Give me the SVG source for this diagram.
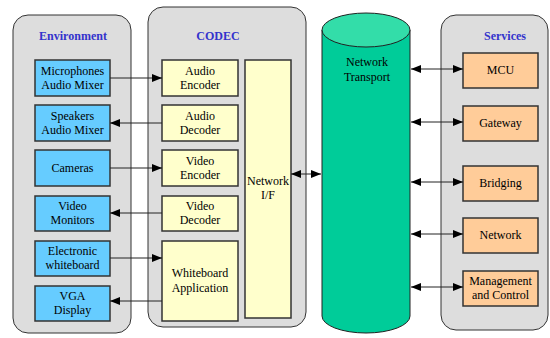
<svg xmlns="http://www.w3.org/2000/svg" width="550" height="338" viewBox="0 0 550 338">
<defs>
<style>
.panel{fill:#dddddd;stroke:#333;stroke-width:1}
.env{fill:#66ccff;stroke:#333;stroke-width:1.5}
.codec{fill:#ffffcc;stroke:#333;stroke-width:1.5}
.svc{fill:#ffcc99;stroke:#333;stroke-width:1.5}
.t{font-family:"Liberation Serif","Times New Roman",serif;font-size:12px;fill:#000;text-anchor:middle}
.title{font-family:"Liberation Serif","Times New Roman",serif;font-size:12px;font-weight:bold;fill:#3333cc;text-anchor:middle}
.c{stroke:#222;stroke-width:1;fill:none}
</style>
<marker id="ah" viewBox="0 0 10 8" refX="10" refY="4" markerWidth="10" markerHeight="8" markerUnits="userSpaceOnUse" orient="auto-start-reverse">
<path d="M0,0 L10,4 L0,8 z" fill="#000"/>
</marker>
</defs>
<rect width="550" height="338" fill="#fff"/>

<g id="environment">
<rect class="panel" x="13" y="15" width="118" height="318" rx="15"/>
<text class="title" x="73" y="40">Environment</text>
</g>
<g id="codec">
<rect class="panel" x="148" y="7" width="158" height="320" rx="15"/>
<text class="title" x="218" y="40">CODEC</text>
</g>
<g id="services">
<rect class="panel" x="441" y="15" width="107" height="315" rx="15"/>
<text class="title" x="505" y="40">Services</text>
</g>

<g id="microphones"><rect class="env" x="35" y="60" width="75" height="36"/><text class="t" x="72.5" y="75">Microphones</text><text class="t" x="72.5" y="89">Audio Mixer</text></g>
<g id="speakers"><rect class="env" x="35" y="105" width="75" height="36"/><text class="t" x="72.5" y="120">Speakers</text><text class="t" x="72.5" y="134">Audio Mixer</text></g>
<g id="cameras"><rect class="env" x="35" y="150" width="75" height="36"/><text class="t" x="72.5" y="172">Cameras</text></g>
<g id="monitors"><rect class="env" x="35" y="196" width="75" height="35"/><text class="t" x="72.5" y="210">Video</text><text class="t" x="72.5" y="224">Monitors</text></g>
<g id="ewhiteboard"><rect class="env" x="35" y="241" width="75" height="35"/><text class="t" x="72.5" y="255">Electronic</text><text class="t" x="72.5" y="269">whiteboard</text></g>
<g id="vga"><rect class="env" x="35" y="286" width="75" height="35"/><text class="t" x="72.5" y="300">VGA</text><text class="t" x="72.5" y="314">Display</text></g>

<g id="audioenc"><rect class="codec" x="162" y="60" width="76" height="36"/><text class="t" x="200" y="75">Audio</text><text class="t" x="200" y="89">Encoder</text></g>
<g id="audiodec"><rect class="codec" x="162" y="105" width="76" height="36"/><text class="t" x="200" y="120">Audio</text><text class="t" x="200" y="134">Decoder</text></g>
<g id="videoenc"><rect class="codec" x="162" y="150" width="76" height="36"/><text class="t" x="200" y="165">Video</text><text class="t" x="200" y="179">Encoder</text></g>
<g id="videodec"><rect class="codec" x="162" y="196" width="76" height="35"/><text class="t" x="200" y="210">Video</text><text class="t" x="200" y="224">Decoder</text></g>
<g id="wbapp"><rect class="codec" x="162" y="241" width="76" height="80"/><text class="t" x="200" y="277">Whiteboard</text><text class="t" x="200" y="292">Application</text></g>
<g id="netif"><rect class="codec" x="245" y="60" width="46" height="258"/><text class="t" x="268" y="185">Network</text><text class="t" x="268" y="199">I/F</text></g>

<g id="transport">
<path d="M322,30 L322,316 A44,17 0 0 0 410,316 L410,30" fill="#00cc99" stroke="#222" stroke-width="1"/>
<ellipse cx="366" cy="30" rx="44" ry="17" fill="#33dda9" stroke="#222" stroke-width="1"/>
<text class="t" x="367" y="66">Network</text><text class="t" x="367" y="81">Transport</text>
</g>

<g id="mcu"><rect class="svc" x="463" y="53" width="75" height="35"/><text class="t" x="500.5" y="74">MCU</text></g>
<g id="gateway"><rect class="svc" x="463" y="106" width="75" height="35"/><text class="t" x="500.5" y="127">Gateway</text></g>
<g id="bridging"><rect class="svc" x="463" y="166" width="75" height="35"/><text class="t" x="500.5" y="187">Bridging</text></g>
<g id="network"><rect class="svc" x="463" y="218" width="75" height="35"/><text class="t" x="500.5" y="239">Network</text></g>
<g id="mgmt"><rect class="svc" x="463" y="271" width="75" height="35"/><text class="t" x="500.5" y="285">Management</text><text class="t" x="500.5" y="299">and Control</text></g>

<g id="connectors">
<line class="c" x1="110" y1="78" x2="162" y2="78" marker-end="url(#ah)"/>
<line class="c" x1="162" y1="123" x2="110" y2="123" marker-end="url(#ah)"/>
<line class="c" x1="110" y1="168" x2="162" y2="168" marker-end="url(#ah)"/>
<line class="c" x1="162" y1="213" x2="110" y2="213" marker-end="url(#ah)"/>
<line class="c" x1="110" y1="258" x2="162" y2="258" marker-end="url(#ah)"/>
<line class="c" x1="162" y1="301" x2="110" y2="301" marker-end="url(#ah)"/>
<line class="c" x1="291" y1="174" x2="321" y2="174" marker-start="url(#ah)" marker-end="url(#ah)"/>
<line class="c" x1="411" y1="69" x2="463" y2="69" marker-start="url(#ah)" marker-end="url(#ah)"/>
<line class="c" x1="411" y1="122" x2="463" y2="122" marker-start="url(#ah)" marker-end="url(#ah)"/>
<line class="c" x1="411" y1="182" x2="463" y2="182" marker-start="url(#ah)" marker-end="url(#ah)"/>
<line class="c" x1="411" y1="234" x2="463" y2="234" marker-start="url(#ah)" marker-end="url(#ah)"/>
<line class="c" x1="411" y1="287" x2="463" y2="287" marker-start="url(#ah)" marker-end="url(#ah)"/>
</g>
</svg>
